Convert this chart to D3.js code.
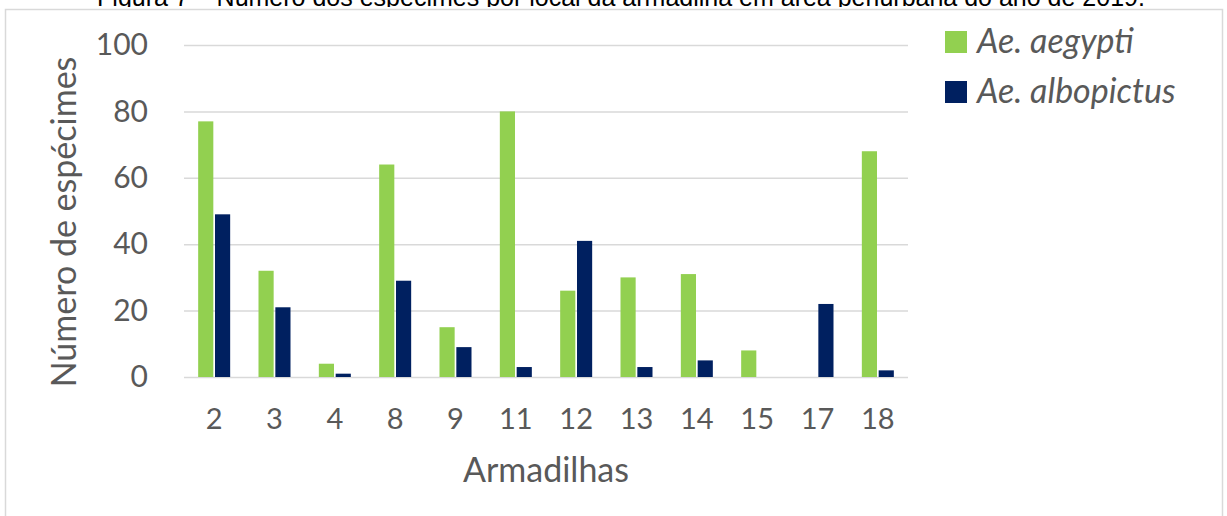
<!DOCTYPE html>
<html>
<head>
<meta charset="utf-8">
<script src="https://cdn.jsdelivr.net/npm/d3@7"></script>
<style>
  body { margin: 0; background: white; }
  svg { display: block; }
</style>
</head>
<body>
<div id="chart"></div>
<script>
const armadilhas = ["2", "3", "4", "8", "9", "11", "12", "13", "14", "15", "17", "18"]
const aegypti = [77, 32, 4, 64, 15, 80, 26, 30, 31, 8, 0, 68]
const albopictus = [49, 21, 1, 29, 9, 3, 41, 3, 5, 0, 22, 2]
const seriesNames = ["Ae. aegypti", "Ae. albopictus"]
const seriesColors = ["#92d050", "#002060"]
const yTicks = [0, 20, 40, 60, 80, 100]

const titleText = "Figura 7 – Número dos espécimes por local da armadilha em área periurbana do ano de 2019."

const W = 1227, H = 516
const plot = { left: 184, right: 908, top: 45, bottom: 377 }
const textColor = '#595959'
const font = 'Lato, "Open Sans", sans-serif'

const rows = armadilhas.map((a, i) => ({ trap: a, values: [aegypti[i], albopictus[i]] }))

const svg = d3.select('#chart').append('svg')
    .attr('width', W)
    .attr('height', H)

// caption, mostly hidden behind the chart box
svg.append('text')
    .attr('x', 621)
    .attr('y', 5.5)
    .attr('text-anchor', 'middle')
    .attr('font-family', '"Liberation Sans", Arial, sans-serif')
    .attr('font-size', 25)
    .attr('fill', '#000')
    .text(titleText)

// chart box
svg.append('rect')
    .attr('x', 0)
    .attr('y', 7)
    .attr('width', W)
    .attr('height', H)
    .attr('fill', 'white')
svg.append('rect')
    .attr('x', 5.5)
    .attr('y', 9.5)
    .attr('width', 1217)
    .attr('height', 540)
    .attr('fill', 'none')
    .attr('stroke', '#d9d9d9')
    .attr('stroke-width', 1.5)

const x = d3.scaleBand()
    .domain(armadilhas)
    .range([plot.left, plot.right])
    .padding(0)

const bw = x.bandwidth()
const x1 = d3.scaleBand()
    .domain(seriesNames)
    .range([bw / 2 - 16, bw / 2 + 16])
    .paddingInner(0.1)

const y = d3.scaleLinear()
    .domain([0, 100])
    .range([plot.bottom, plot.top])

const color = d3.scaleOrdinal()
    .domain(seriesNames)
    .range(seriesColors)

// gridlines
svg.append('g')
    .attr('class', 'grid')
    .attr('transform', `translate(${plot.left}, 0)`)
    .call(d3.axisLeft(y).tickValues(yTicks).tickSize(-(plot.right - plot.left)).tickFormat(''))
    .call(g => g.select('.domain').remove())
    .call(g => g.selectAll('line').attr('stroke', '#d9d9d9').attr('stroke-width', 1.5))

// y axis
svg.append('g')
    .attr('transform', `translate(${plot.left}, 0)`)
    .call(d3.axisLeft(y).tickValues(yTicks).tickSize(0).tickPadding(36))
    .call(g => g.select('.domain').remove())
    .call(g => g.selectAll('text')
        .attr('font-family', font)
        .attr('font-size', 30)
        .attr('fill', textColor))

// bars
const groups = svg.append('g')
    .selectAll('g.trap')
    .data(rows)
    .enter()
    .append('g')
    .classed('trap', true)
    .attr('transform', d => `translate(${x(d.trap)}, 0)`)

groups.selectAll('rect')
    .data(d => d.values.map((v, i) => ({ key: seriesNames[i], value: v })))
    .enter()
    .append('rect')
    .attr('x', d => x1(d.key))
    .attr('width', x1.bandwidth())
    .attr('y', d => y(d.value))
    .attr('height', d => y(0) - y(d.value))
    .attr('fill', d => color(d.key))

// x axis
svg.append('g')
    .attr('transform', `translate(0, ${plot.bottom})`)
    .call(d3.axisBottom(x).tickSize(0).tickPadding(31))
    .call(g => g.select('.domain').remove())
    .call(g => g.selectAll('text')
        .attr('font-family', font)
        .attr('font-size', 29)
        .attr('fill', textColor))

// axis titles
svg.append('text')
    .attr('x', 546)
    .attr('y', 482)
    .attr('text-anchor', 'middle')
    .attr('font-family', font)
    .attr('font-size', 34)
    .attr('fill', textColor)
    .text('Armadilhas')

svg.append('text')
    .attr('transform', 'translate(76, 222) rotate(-90)')
    .attr('text-anchor', 'middle')
    .attr('font-family', font)
    .attr('font-size', 34)
    .attr('fill', textColor)
    .text('Número de espécimes')

// legend
const legend = svg.selectAll('.legend')
    .data(seriesNames)
    .enter()
    .append('g')
    .classed('legend', true)
    .attr('transform', (d, i) => `translate(945, ${31 + i * 50})`)

legend.append('rect')
    .attr('width', 22)
    .attr('height', 22)
    .attr('fill', d => color(d))

legend.append('text')
    .attr('x', 32)
    .attr('y', 22)
    .attr('font-family', font)
    .attr('font-style', 'italic')
    .attr('font-size', 34)
    .attr('fill', textColor)
    .text(d => d)
</script>
</body>
</html>
